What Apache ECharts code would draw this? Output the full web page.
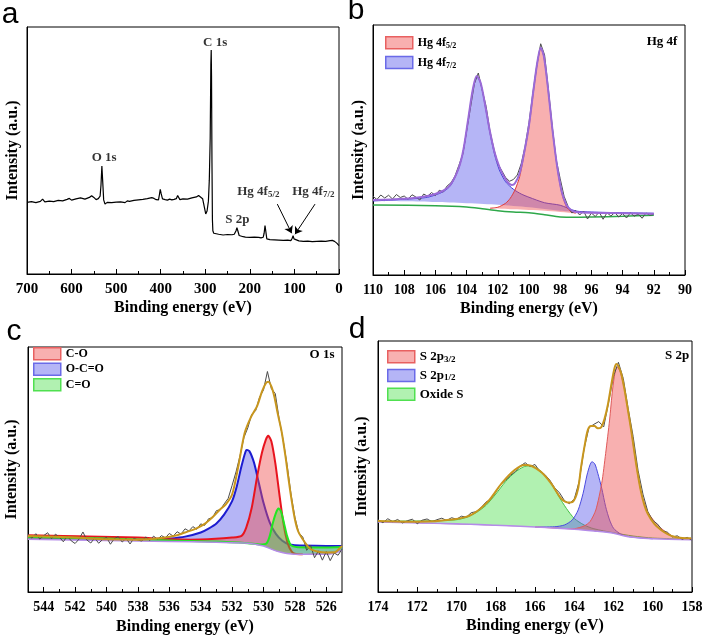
<!DOCTYPE html>
<html><head><meta charset="utf-8">
<script src="https://cdn.jsdelivr.net/npm/echarts@6/dist/echarts.min.js"></script>
<style>html,body{margin:0;padding:0;background:#fff}#c{width:710px;height:643px}</style>
</head><body><div id="c"></div>
<script>
// ---------- Panel a: survey spectrum ----------
const surveyTicks = [0,100,200,300,400,500,600,700];
const survey = [[700,29.0],[690,29.3],[680,28.9],[670,29.4],[665,30.3],[660,29.2],[650,29.5],[640,29.3],[630,29.8],[620,29.6],[610,30.2],[605,30.6],[600,29.9],[590,30.4],[580,30.8],[570,30.3],[560,31.0],[555,31.7],[550,31.0],[545,30.1],[540,30.5],[536,31.5],[534,36.0],[532,43.7],[530,37.0],[528,30.0],[525,28.3],[520,29.0],[510,28.9],[500,29.1],[490,29.2],[480,28.9],[475,29.6],[470,29.4],[460,29.8],[450,30.0],[440,30.2],[430,30.5],[420,30.9],[415,30.6],[410,30.1],[405,30.0],[403,32.0],[401,34.3],[399,32.5],[396,30.4],[390,30.1],[385,29.9],[380,30.3],[375,30.0],[370,30.2],[365,30.5],[362,31.8],[360,31.3],[357,30.1],[350,30.4],[340,30.3],[330,30.8],[320,31.2],[315,31.8],[312,32.0],[306,30.5],[302,27.0],[299,24.3],[296,25.5],[293,29.5],[291,38.0],[289,55.0],[287.5,85.0],[286.7,90.7],[286,80.0],[285,45.0],[284,22.0],[283,17.5],[281,16.5],[278,16.1],[270,16.1],[260,15.8],[250,16.0],[240,15.9],[235,16.1],[231,17.5],[229,18.8],[227,17.5],[224,15.6],[220,15.2],[215,15.1],[210,14.9],[200,14.8],[190,14.9],[180,14.8],[175,14.6],[170,14.9],[168,16.5],[166,19.6],[164,17.0],[162,14.2],[155,13.9],[145,13.8],[135,13.7],[125,13.6],[115,13.7],[108,13.5],[105,14.5],[103,15.5],[101,14.2],[98,13.6],[90,13.4],[80,13.2],[70,13.3],[60,13.1],[50,13.2],[40,13.3],[30,13.2],[20,13.5],[15,13.6],[10,13.2],[5,12.5],[0,11.5]];
const surveyLabelText = ['{n|C 1s}','{n|O 1s}','{n|S 2p}','{n|Hg 4f}{s|5/2}','{n|Hg 4f}{s|7/2}'];
const surveyLabelPos = [[278,93.5],[527,47.0],[228,21.9],[181,33.3],[57.6,33.3]];
const surveyArrows = [[[138.4,28.3],[106.2,16.5]],[[53.8,28.3],[98.7,16.1]]];

// ---------- Panel b: Hg 4f ----------
const hgBg = [[110,28.0],[106,27.7],[104,27.2],[103,26.5],[102,25.7],[101,25.2],[100,24.9],[99,24.1],[98,23.2],[97,23.1],[96,23.2],[94,23.5],[92,23.9]];
const hg72 = [[110,29.6],[108,30.3],[106.5,31.1],[105.5,33.3],[105,36.0],[104.5,42.7],[104.2,50.0],[103.9,62.0],[103.6,74.0],[103.35,79.3],[103.1,76.7],[102.8,67.3],[102.5,56.7],[102.2,48.0],[101.9,42.0],[101.5,37.3],[101,34.3],[100.5,32.4],[100,31.1],[99,28.9],[98,27.9],[97,25.6],[96,25.2],[94,24.9],[92,24.7]];
const hg72Base = [[110,29.6],[106,29.2],[102,28.1],[100,27.1],[98,25.7],[97,25.2],[96,25.1],[92,24.7]];
const hg52 = [[102.5,26.7],[102,27.1],[101.5,28.7],[101.2,30.7],[100.9,34.0],[100.6,39.3],[100.3,48.7],[100,59.3],[99.7,74.0],[99.45,85.3],[99.25,90.7],[99.05,87.3],[98.8,75.3],[98.5,58.0],[98.2,43.3],[97.9,32.7],[97.6,27.3],[97.3,25.3],[97,24.7]];
const hg52Base = [[102.5,26.7],[101,26.3],[99,25.7],[97,24.7]];
const hgEnv = [[110,30.0],[108,30.5],[106.5,31.6],[105.5,33.7],[105,36.4],[104.5,42.9],[104.2,50.3],[103.9,62.3],[103.6,74.3],[103.35,79.6],[103.1,76.9],[102.8,67.6],[102.5,57.3],[102.2,48.9],[101.9,43.3],[101.6,39.3],[101.3,36.7],[101.1,36.0],[100.9,36.7],[100.6,40.7],[100.3,49.3],[100,60.0],[99.7,74.7],[99.45,85.7],[99.25,90.9],[99.05,87.6],[98.8,75.6],[98.5,58.3],[98.2,43.6],[97.9,33.3],[97.6,28.0],[97.3,26.0],[97,25.2],[96,24.9],[94,24.7],[92,24.5]];
const hgRaw = [[110,31.5],[109.75,30.2],[109.5,32.0],[109.25,30.8],[109,31.9],[108.75,30.4],[108.5,32.2],[108.25,31.0],[108,31.6],[107.75,30.3],[107.5,32.1],[107.25,31.2],[107,30.0],[106.75,32.4],[106.5,31.5],[106.25,33.0],[106,31.8],[105.75,33.9],[105.5,33.2],[105.25,35.6],[105,36.9],[104.75,39.5],[104.5,43.8],[104.25,48.2],[104,57.5],[103.75,67.0],[103.5,76.5],[103.25,80.8],[103,74.0],[102.75,67.5],[102.5,57.5],[102.25,50.5],[102,44.5],[101.75,41.8],[101.5,39.0],[101.25,37.5],[101,38.2],[100.75,40.0],[100.5,44.5],[100.25,51.5],[100,61.0],[99.75,73.0],[99.5,84.0],[99.25,92.5],[99,88.0],[98.75,74.0],[98.5,59.0],[98.25,46.0],[98,38.5],[97.75,31.5],[97.5,27.5],[97.25,24.8],[97,25.8],[96.75,24.0],[96.5,25.6],[96.25,22.4],[96,24.8],[95.75,23.4],[95.5,25.2],[95.25,22.3],[95,24.9],[94.75,23.6],[94.5,25.0],[94.25,23.2],[94,24.6],[93.75,22.8],[93.5,24.9],[93.25,23.5],[93,24.4],[92.75,22.7],[92.5,24.8],[92.25,23.9],[92,24.3]];

// ---------- Panel c: O 1s ----------
const oTicks = [526,528,530,532,534,536,538,540,542,544];
const oMinorTicks = [527,529,531,533,535,537,539,541,543];
const oBg = [[545,21.5],[540,21.0],[536,20.6],[533,20.3],[531,19.9],[530,18.8],[529.5,17.5],[529,16.4],[528.5,15.7],[528,15.4],[526,15.4],[525.5,15.8],[525,17.0]];
const oCO = [[545,23.2],[538,22.2],[536,21.5],[534,21.4],[532,22.2],[531.4,22.9],[531.1,26.3],[530.75,34.4],[530.4,47.3],[530.1,56.8],[529.85,62.2],[529.7,63.8],[529.5,61.5],[529.25,52.7],[529,40.5],[528.8,31.0],[528.6,23.6],[528.4,18.8],[528.2,16.5],[528,15.6],[527.5,15.4]];
const oOCO = [[545,22.2],[540,21.5],[537,21.3],[536,21.8],[535,22.6],[534,24.3],[533.5,25.9],[533,28.0],[532.5,31.7],[532,37.1],[531.7,43.2],[531.4,51.4],[531.1,57.9],[530.9,57.5],[530.6,52.7],[530.3,44.6],[530,36.4],[529.6,28.3],[529.2,23.6],[528.8,20.9],[528.4,19.5],[528,19.1],[526,18.8],[525,18.8]];
const oCdO = [[545,22.6],[540,21.8],[536,21.0],[533,20.6],[531,19.9],[530.2,19.4],[529.8,19.9],[529.6,22.9],[529.4,28.3],[529.2,32.4],[529.05,34.1],[528.9,33.1],[528.7,28.3],[528.5,22.9],[528.3,19.5],[528.1,18.6],[527.8,18.3],[526,18.2],[525,18.4]];
const oEnv = [[545,22.9],[542,22.2],[540,21.5],[538,21.3],[536.5,22.0],[535.5,23.2],[535,24.3],[534.3,25.9],[533.7,28.0],[533.2,30.8],[532.8,33.5],[532.4,35.8],[532,39.8],[531.6,51.4],[531.2,64.9],[530.8,71.4],[530.4,76.0],[530.1,81.8],[529.85,85.2],[529.7,85.8],[529.5,83.9],[529.3,79.5],[529.1,73.0],[528.85,65.6],[528.6,55.4],[528.4,45.9],[528.2,37.1],[528,29.7],[527.8,24.9],[527.5,21.5],[527.2,18.8],[527,17.5],[526.5,16.4],[526,16.1],[525.5,16.1],[525.2,17.5],[525,18.8]];
const oRaw = [[545,23.5],[544.75,22.0],[544.5,23.8],[544.25,21.6],[544,23.0],[543.75,24.2],[543.5,21.8],[543.25,23.6],[543,22.4],[542.75,20.5],[542.5,22.8],[542.25,20.9],[542,19.8],[541.75,21.6],[541.5,24.5],[541.25,21.2],[541,20.0],[540.75,22.1],[540.5,19.9],[540.25,21.4],[540,22.3],[539.75,19.5],[539.5,21.8],[539.25,22.6],[539,20.4],[538.75,21.9],[538.5,19.6],[538.25,22.0],[538,21.2],[537.75,20.8],[537.5,22.5],[537.25,21.0],[537,22.8],[536.75,21.5],[536.5,23.0],[536.25,22.1],[536,23.9],[535.75,22.8],[535.5,24.6],[535.25,23.6],[535,25.8],[534.75,24.9],[534.5,26.7],[534.25,25.6],[534,27.8],[533.75,27.2],[533.5,29.9],[533.25,30.3],[533,33.2],[532.75,33.6],[532.5,36.0],[532.25,38.2],[532,43.5],[531.75,49.0],[531.5,55.5],[531.25,63.0],[531,67.0],[530.75,72.5],[530.5,74.0],[530.25,79.5],[530,82.5],[529.75,90.0],[529.5,83.0],[529.25,81.0],[529,70.5],[528.75,62.0],[528.5,52.0],[528.25,40.0],[528,30.5],[527.75,24.0],[527.5,22.5],[527.25,17.0],[527,19.0],[526.75,14.0],[526.5,16.8],[526.25,13.0],[526,16.5],[525.75,12.8],[525.5,15.9],[525.25,15.0],[525,17.5]];

// ---------- Panel d: S 2p ----------
const sBg = [[174,27.9],[170,27.2],[168,26.6],[166,25.9],[164,25.0],[163,24.3],[162,23.4],[161.5,22.4],[161,21.8],[160,21.2],[158,20.8]];
const s32 = [[166,25.9],[164.5,25.3],[164,25.2],[163.5,26.3],[163.2,28.0],[162.9,32.7],[162.6,43.3],[162.4,55.2],[162.2,68.5],[162.05,80.5],[161.9,88.4],[161.8,89.5],[161.65,87.6],[161.45,81.1],[161.28,73.2],[161.1,64.5],[160.94,55.9],[160.6,40.0],[160.26,32.0],[159.9,28.0],[159.58,25.4],[159,22.3],[158.5,21.5],[158,21.1]];
const s12 = [[166,25.9],[165,26.0],[164.5,26.7],[164.1,28.7],[163.8,32.7],[163.55,39.3],[163.35,46.6],[163.2,50.6],[163.1,51.9],[162.95,51.0],[162.8,47.3],[162.6,41.3],[162.4,34.0],[162.2,28.7],[162,25.4],[161.7,23.4],[161.4,22.4],[161,21.8],[160,21.2]];
const sOx = [[174,28.2],[171,28.4],[170,28.8],[169.5,29.7],[169,31.6],[168.5,34.5],[168,39.0],[167.5,44.0],[167,47.8],[166.6,49.8],[166.3,50.3],[166,49.8],[165.6,47.5],[165.2,43.6],[164.8,38.2],[164.4,33.3],[164,29.3],[163.5,26.7],[163,25.2],[162,23.6],[161,22.3],[160,21.5],[158,21.0]];
const sEnv = [[174,28.3],[172,28.0],[170.1,29.0],[169.25,30.7],[168.4,36.0],[167.7,43.3],[167.04,48.6],[166.53,50.6],[166.2,50.3],[165.7,47.9],[165.18,43.3],[164.67,37.3],[164.33,35.7],[164.07,36.0],[163.82,40.6],[163.65,49.9],[163.48,57.9],[163.31,64.5],[163.15,66.1],[162.97,66.1],[162.8,65.2],[162.63,65.6],[162.45,69.2],[162.29,74.5],[162.1,83.1],[161.95,89.1],[161.85,90.8],[161.75,90.0],[161.61,87.1],[161.45,81.1],[161.28,73.2],[161.1,64.5],[160.94,55.9],[160.77,47.3],[160.6,40.0],[160.43,34.7],[160.26,31.3],[159.92,27.1],[159.58,24.7],[159.24,23.1],[158.9,22.0],[158.5,21.5],[158.05,21.4]];
const sRaw = [[174,28.8],[173.75,27.6],[173.5,29.2],[173.25,28.0],[173,28.9],[172.75,27.5],[172.5,28.4],[172.25,29.0],[172,27.2],[171.75,28.6],[171.5,29.1],[171.25,28.0],[171,28.8],[170.75,29.4],[170.5,28.5],[170.25,29.6],[170,29.0],[169.75,30.2],[169.5,29.8],[169.25,31.6],[169,32.0],[168.75,33.6],[168.5,35.8],[168.25,37.0],[168,39.8],[167.75,42.9],[167.5,44.5],[167.25,46.5],[167,48.0],[166.75,50.2],[166.5,51.5],[166.25,50.0],[166,50.8],[165.75,48.0],[165.5,46.8],[165.25,44.6],[165,41.5],[164.75,39.5],[164.5,36.4],[164.25,35.2],[164,37.0],[163.75,44.0],[163.5,57.0],[163.25,65.5],[163,66.8],[162.75,67.9],[162.5,65.8],[162.25,75.5],[162,86.0],[161.75,91.5],[161.5,85.0],[161.25,73.0],[161,62.0],[160.75,48.5],[160.5,39.0],[160.25,32.0],[160,28.5],[159.75,27.0],[159.5,24.4],[159.25,23.8],[159,21.9],[158.75,22.4],[158.5,21.0],[158.25,21.8],[158,20.6]];

// ---------- styling ----------
const SERIF = '"Liberation Serif","Times New Roman",serif';
const SANS = '"Liberation Sans",Arial,sans-serif';
const RED_F = 'rgba(240,80,80,0.45)', BLUE_F = 'rgba(90,90,235,0.45)', GREEN_F = 'rgba(60,220,60,0.40)';

function rich(n, s) {
  return {
    n: {fontFamily: SERIF, fontWeight: 'bold', fontSize: n, color: '#000', lineHeight: 14},
    s: {fontFamily: SERIF, fontWeight: 'bold', fontSize: s, color: '#000', lineHeight: s, verticalAlign: 'bottom'}
  };
}
const legendText = {
  'Hg 4f5/2': '{n|Hg 4f}{s|5/2}', 'Hg 4f7/2': '{n|Hg 4f}{s|7/2}',
  'C-O': '{n|C-O}', 'O-C=O': '{n|O-C=O}', 'C=O': '{n|C=O}',
  'S 2p3/2': '{n|S 2p}{s|3/2}', 'S 2p1/2': '{n|S 2p}{s|1/2}', 'Oxide S': '{n|Oxide S}'
};

function fill(name, gi, curve, base, color, stroke, lw) {
  return {
    type: 'custom', name, coordinateSystem: 'cartesian2d', xAxisIndex: gi, yAxisIndex: gi,
    silent: true, animation: false, z: 2, itemStyle: {color, borderColor: stroke},
    data: [curve[0]],
    renderItem(params, api) {
      const top = curve.map(p => api.coord(p));
      const bot = base.slice().reverse().map(p => api.coord(p));
      return {type: 'group', children: [
        {type: 'polygon', shape: {points: top.concat(bot), smooth: 0.25}, style: {fill: color, stroke: null}},
        {type: 'polyline', shape: {points: top, smooth: 0.25}, style: {fill: null, stroke, lineWidth: lw}}
      ]};
    }
  };
}
function line(name, gi, data, color, width, smooth, z) {
  return {type: 'line', name, xAxisIndex: gi, yAxisIndex: gi, data, symbol: 'none', smooth,
    lineStyle: {color, width}, itemStyle: {color}, silent: true, animation: false, z};
}

const grids = [
  {left: 27, top: 27, width: 312, height: 247},
  {left: 373, top: 25, width: 312, height: 250},
  {left: 28, top: 347, width: 314, height: 245},
  {left: 378, top: 341, width: 314, height: 251}
].map(g => Object.assign(g, {show: true, borderColor: '#000', borderWidth: 1, outerBoundsMode: 'none', containLabel: false}));

function xAx(gi, min, max, interval, fs, nameGap, extra) {
  return Object.assign({
    gridIndex: gi, type: 'value', min, max, interval, inverse: true, position: 'bottom',
    axisLine: {show: true, onZero: false, lineStyle: {color: '#000', width: 1}},
    axisTick: {show: true, inside: true, length: 5, lineStyle: {color: '#000', width: 1}},
    minorTick: {show: true, splitNumber: 2, length: 3, lineStyle: {color: '#000', width: 1}},
    splitLine: {show: false}, minorSplitLine: {show: false},
    axisLabel: {color: '#000', fontFamily: SERIF, fontWeight: 'bold', fontSize: fs, margin: 8, showMinLabel: true, showMaxLabel: true},
    name: 'Binding energy (eV)', nameLocation: 'middle', nameGap, nameMoveOverlap: false,
    nameTextStyle: {color: '#000', fontFamily: SERIF, fontWeight: 'bold', fontSize: 16}
  }, extra || {});
}
const xAxes = [
  xAx(0, 0, 700, 100, 15, 26),
  xAx(1, 90, 110, 2, 14, 26),
  xAx(2, 525, 545, undefined, 14, 27, {
    minorTick: {show: false},
    axisTick: {show: true, inside: true, length: 5, customValues: oTicks, lineStyle: {color: '#000'}},
    axisLabel: {color: '#000', fontFamily: SERIF, fontWeight: 'bold', fontSize: 14, margin: 8, customValues: oTicks}
  }),
  xAx(3, 158, 174, 2, 14, 26),
  {gridIndex: 2, type: 'value', min: 525, max: 545, inverse: true, position: 'bottom',
   axisLine: {show: false}, axisLabel: {show: false}, splitLine: {show: false},
   axisTick: {show: true, inside: true, length: 3, customValues: oMinorTicks, lineStyle: {color: '#000'}}}
];
const yGaps = [6, 6, 8, 8];
const yAxes = [0, 1, 2, 3].map(gi => ({
  gridIndex: gi, type: 'value', min: 0, max: 100,
  axisLine: {show: true, onZero: false, lineStyle: {color: '#000', width: 1}},
  axisTick: {show: false}, axisLabel: {show: false}, splitLine: {show: false},
  name: 'Intensity (a.u.)', nameLocation: 'middle', nameGap: yGaps[gi], nameMoveOverlap: false,
  nameTextStyle: {color: '#000', fontFamily: SERIF, fontWeight: 'bold', fontSize: 16}
}));

function legend(left, top, names, styles, gap, fs) {
  return {
    left, top, orient: 'vertical', padding: 0, itemGap: gap, itemWidth: 27, itemHeight: 12,
    icon: 'rect', selectedMode: false,
    data: names.map((n, i) => ({name: n, itemStyle: styles[i]})),
    formatter: n => legendText[n],
    textStyle: {color: '#000', rich: rich(fs, fs <= 12 ? 8 : 9)}
  };
}
const stR = {color: RED_F, borderColor: '#e86060', borderWidth: 1.5};
const stB = {color: BLUE_F, borderColor: '#6a6ae8', borderWidth: 1.5};
const stG = {color: GREEN_F, borderColor: '#50e050', borderWidth: 1.5};

const series = [
  // a
  Object.assign(line('survey', 0, survey, '#000', 1.2, false, 3), {
    markLine: {silent: true, symbol: ['none', 'arrow'], symbolSize: 7, animation: false,
      lineStyle: {color: '#000', width: 1, type: 'solid'}, label: {show: false},
      data: surveyArrows.map(a => [{coord: a[0]}, {coord: a[1]}])}
  }),
  {type: 'scatter', name: 'annot', xAxisIndex: 0, yAxisIndex: 0, symbolSize: 1, silent: true, animation: false,
   itemStyle: {color: 'rgba(0,0,0,0)'},
   data: surveyLabelPos.map((p, i) => ({value: p, label: {formatter: surveyLabelText[i]}})),
   label: {show: true, position: 'inside', color: '#000', textBorderWidth: 0, rich: rich(13, 9)}, z: 5},
  // b
  fill('Hg 4f7/2', 1, hg72, hg72Base, BLUE_F, '#3b3bd8', 1),
  fill('Hg 4f5/2', 1, hg52, hg52Base, RED_F, '#e03a3a', 1),
  line('hgBg', 1, hgBg, '#2ea84a', 1.5, 0.3, 3),
  line('hgRaw', 1, hgRaw, '#4a4a4a', 1, false, 3),
  line('hgEnv', 1, hgEnv, '#9a6ad8', 2, 0.3, 4),
  // c
  fill('O-C=O', 2, oOCO, oBg, BLUE_F, '#1c1cd0', 2),
  fill('C-O', 2, oCO, oBg, RED_F, '#e8141e', 2),
  fill('C=O', 2, oCdO, oBg, GREEN_F, '#22e622', 2),
  line('oBg', 2, oBg, '#b48be8', 1.5, 0.3, 3),
  line('oRaw', 2, oRaw, '#4a4a4a', 1, false, 3),
  line('oEnv', 2, oEnv, '#c8961e', 2, 0.3, 4),
  // d
  fill('Oxide S', 3, sOx, sBg, GREEN_F, '#44c044', 1),
  fill('S 2p1/2', 3, s12, sBg, BLUE_F, '#4a4ae0', 1),
  fill('S 2p3/2', 3, s32, sBg, RED_F, '#e05a5a', 1),
  line('sBg', 3, sBg, '#b48be8', 1.5, 0.3, 3),
  line('sRaw', 3, sRaw, '#4a4a4a', 1, false, 3),
  line('sEnv', 3, sEnv, '#c8961e', 2, 0.3, 4)
];

const txt = (x, y, t, fs, font, weight, align, va) => ({type: 'text', x, y, z: 100,
  style: {text: t, fontSize: fs, fontFamily: font, fontWeight: weight, fill: '#000', align: align || 'center', verticalAlign: va || 'middle'}});

const option = {
  animation: false,
  backgroundColor: '#fff',
  grid: grids, xAxis: xAxes, yAxis: yAxes, series,
  legend: [
    legend(385, 36, ['Hg 4f5/2', 'Hg 4f7/2'], [stR, stB], 6, 12),
    legend(33, 347, ['C-O', 'O-C=O', 'C=O'], [stR, stB, stG], 2, 12),
    legend(387, 350, ['S 2p3/2', 'S 2p1/2', 'Oxide S'], [stR, stB, stG], 5, 13)
  ],
  graphic: [
    txt(10, 30, 'a', 30, SANS, 'normal', 'center', 'bottom'),
    txt(356, 26, 'b', 30, SANS, 'normal', 'center', 'bottom'),
    txt(14, 347, 'c', 30, SANS, 'normal', 'center', 'bottom'),
    txt(357, 345, 'd', 30, SANS, 'normal', 'center', 'bottom'),
    txt(662, 42, 'Hg 4f', 13, SERIF, 'bold'),
    txt(322, 355, 'O 1s', 13, SERIF, 'bold'),
    txt(677, 356, 'S 2p', 13, SERIF, 'bold')
  ]
};
const chart = echarts.init(document.getElementById('c'), null, {renderer: 'canvas'});
chart.setOption(option);
</script></body></html>
